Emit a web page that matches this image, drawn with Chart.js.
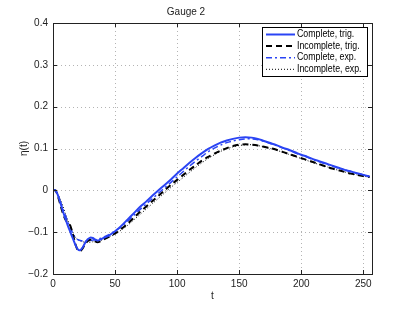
<!DOCTYPE html>
<html>
<head>
<meta charset="utf-8">
<script src="https://cdn.jsdelivr.net/npm/chart.js@4/dist/chart.umd.min.js"></script>
<style>
  body { margin: 0; background: #fff; }
</style>
</head>
<body>
<canvas id="gaugeChart" width="411" height="309"></canvas>
<script>
// time samples (shared by all series)
const tValues = [0, 2, 4, 6, 8, 10, 12, 14, 16, 18, 20, 22, 24, 26, 28, 30, 32, 34, 36, 38, 40,
  45, 50, 55, 60, 65, 70, 75, 80, 85, 90, 95, 100, 105, 110, 115, 120, 125, 130, 135, 140,
  145, 150, 155, 160, 165, 170, 175, 180, 185, 190, 195, 200, 205, 210, 215, 220, 225, 230,
  235, 240, 245, 250, 255];

const completeTrig = [0, 0, -0.012, -0.03, -0.05, -0.068, -0.085, -0.1, -0.115, -0.13, -0.141,
  -0.143, -0.136, -0.125, -0.117, -0.113, -0.114, -0.118, -0.12, -0.118, -0.115,
  -0.108, -0.098, -0.085, -0.07, -0.055, -0.04, -0.027, -0.013, 0.0, 0.013, 0.026, 0.04,
  0.053, 0.066, 0.078, 0.089, 0.099, 0.107, 0.114, 0.119, 0.123, 0.126, 0.127, 0.126,
  0.123, 0.118, 0.113, 0.108, 0.102, 0.097, 0.091, 0.085, 0.08, 0.074, 0.069, 0.064,
  0.059, 0.054, 0.049, 0.045, 0.041, 0.037, 0.033];

const incompleteTrig = [0, 0, -0.015, -0.035, -0.055, -0.07, -0.077, -0.085, -0.105, -0.128, -0.143,
  -0.145, -0.138, -0.128, -0.121, -0.118, -0.118, -0.122, -0.124, -0.122, -0.119,
  -0.111, -0.103, -0.092, -0.08, -0.066, -0.052, -0.039, -0.026, -0.013, 0.0, 0.013, 0.025,
  0.037, 0.049, 0.06, 0.071, 0.08, 0.088, 0.095, 0.101, 0.106, 0.109, 0.11, 0.109,
  0.107, 0.104, 0.101, 0.097, 0.092, 0.087, 0.082, 0.077, 0.072, 0.067, 0.062, 0.057,
  0.052, 0.048, 0.044, 0.04, 0.037, 0.034, 0.032];

const completeExp = [0, 0, -0.012, -0.028, -0.045, -0.06, -0.076, -0.09, -0.103, -0.113, -0.118,
  -0.12, -0.121, -0.121, -0.12, -0.12, -0.119, -0.118, -0.117, -0.115, -0.113,
  -0.106, -0.097, -0.087, -0.074, -0.06, -0.046, -0.033, -0.02, -0.007, 0.006, 0.019, 0.032,
  0.045, 0.058, 0.07, 0.081, 0.092, 0.101, 0.108, 0.114, 0.118, 0.121, 0.123, 0.123,
  0.121, 0.117, 0.112, 0.107, 0.101, 0.096, 0.09, 0.084, 0.079, 0.073, 0.068, 0.063,
  0.058, 0.053, 0.049, 0.045, 0.041, 0.037, 0.033];

const incompleteExp = [0, 0, -0.01, -0.022, -0.038, -0.055, -0.072, -0.088, -0.101, -0.112, -0.118,
  -0.121, -0.123, -0.124, -0.124, -0.124, -0.123, -0.122, -0.121, -0.12, -0.118,
  -0.112, -0.105, -0.095, -0.084, -0.071, -0.058, -0.045, -0.032, -0.019, -0.006, 0.007, 0.019,
  0.031, 0.043, 0.055, 0.066, 0.076, 0.085, 0.093, 0.099, 0.104, 0.107, 0.109, 0.109,
  0.107, 0.104, 0.1, 0.096, 0.091, 0.086, 0.081, 0.076, 0.071, 0.066, 0.061, 0.057,
  0.052, 0.048, 0.044, 0.04, 0.037, 0.034, 0.031];

const seriesLabels = ["Complete, trig.", "Incomplete, trig.", "Complete, exp.", "Incomplete, exp."];
const xTicks = [0, 50, 100, 150, 200, 250];
const yTicks = [-0.2, -0.1, 0, 0.1, 0.2, 0.3, 0.4];

const BLUE = "#2a44f4";
const FONT = "'Liberation Sans', Arial, sans-serif";

const toPoints = (vals) => tValues.map((t, i) => ({ x: t, y: vals[i] }));

// dotted grid, box with inward ticks, legend inside the axes
const matlabAxes = {
  id: "matlabAxes",
  beforeDatasetsDraw(chart) {
    const { ctx, chartArea: a, scales } = chart;
    ctx.save();
    ctx.strokeStyle = "#b4b4b4";
    ctx.lineWidth = 1;
    ctx.setLineDash([1, 3]);
    xTicks.forEach((v) => {
      const x = Math.round(scales.x.getPixelForValue(v)) + 0.5;
      ctx.beginPath(); ctx.moveTo(x, a.top); ctx.lineTo(x, a.bottom); ctx.stroke();
    });
    yTicks.forEach((v) => {
      const y = Math.round(scales.y.getPixelForValue(v)) + 0.5;
      ctx.beginPath(); ctx.moveTo(a.left, y); ctx.lineTo(a.right, y); ctx.stroke();
    });
    ctx.restore();
  },
  afterDatasetsDraw(chart) {
    const { ctx, chartArea: a, scales } = chart;
    ctx.save();
    ctx.strokeStyle = "#222";
    ctx.lineWidth = 1;
    ctx.setLineDash([]);
    ctx.strokeRect(Math.round(a.left) + 0.5, Math.round(a.top) + 0.5,
      Math.round(a.right - a.left), Math.round(a.bottom - a.top));
    const tl = 4;
    xTicks.forEach((v) => {
      const x = Math.round(scales.x.getPixelForValue(v)) + 0.5;
      ctx.beginPath();
      ctx.moveTo(x, a.bottom); ctx.lineTo(x, a.bottom - tl);
      ctx.moveTo(x, a.top); ctx.lineTo(x, a.top + tl);
      ctx.stroke();
    });
    yTicks.forEach((v) => {
      const y = Math.round(scales.y.getPixelForValue(v)) + 0.5;
      ctx.beginPath();
      ctx.moveTo(a.left, y); ctx.lineTo(a.left + tl, y);
      ctx.moveTo(a.right, y); ctx.lineTo(a.right - tl, y);
      ctx.stroke();
    });

    // legend
    const lx = 262, ly = 27, lw = 105, lh = 49;
    ctx.fillStyle = "#fff";
    ctx.fillRect(lx, ly, lw, lh);
    ctx.strokeStyle = "#000";
    ctx.strokeRect(lx + 0.5, ly + 0.5, lw, lh);
    ctx.font = "10px " + FONT;
    ctx.textBaseline = "middle";
    chart.data.datasets.forEach((ds, i) => {
      const y = ly + 7.5 + i * 11.6;
      ctx.strokeStyle = ds.borderColor;
      ctx.lineWidth = ds.borderWidth;
      ctx.setLineDash(ds.borderDash || []);
      ctx.beginPath(); ctx.moveTo(lx + 4, y); ctx.lineTo(lx + 33, y); ctx.stroke();
      ctx.setLineDash([]);
      ctx.fillStyle = "#000";
      // reference font is narrower: squeeze text horizontally
      const w = ctx.measureText(ds.label).width * 0.88;
      ctx.fillText(ds.label, lx + 35, y, w);
    });
    ctx.restore();
  },
};

const ctx = document.getElementById("gaugeChart").getContext("2d");
const chart = new Chart(ctx, {
  type: "line",
  data: {
    datasets: [
      { label: seriesLabels[0], data: toPoints(completeTrig), borderColor: BLUE, borderWidth: 2 },
      { label: seriesLabels[1], data: toPoints(incompleteTrig), borderColor: "#000", borderWidth: 2, borderDash: [6, 4] },
      { label: seriesLabels[2], data: toPoints(completeExp), borderColor: BLUE, borderWidth: 1.5, borderDash: [6, 3, 2, 3] },
      { label: seriesLabels[3], data: toPoints(incompleteExp), borderColor: "#000", borderWidth: 1, borderDash: [1, 2] },
    ],
  },
  options: {
    responsive: false,
    animation: false,
    layout: { padding: { left: 0, top: 0, right: 39, bottom: 0 } },
    elements: { point: { radius: 0 }, line: { tension: 0.3, fill: false } },
    plugins: {
      legend: { display: false },
      tooltip: { enabled: false },
      title: {
        display: true,
        text: "Gauge 2",
        color: "#222",
        font: { family: FONT, size: 10, weight: "normal" },
        padding: { top: 6, bottom: 5 },
      },
    },
    scales: {
      x: {
        type: "linear",
        min: 0,
        max: 257,
        afterFit: (s) => { s.height = 35; },
        grid: { display: false, drawTicks: false },
        border: { display: false },
        ticks: {
          stepSize: 50,
          includeBounds: false,
          padding: 4,
          color: "#222",
          maxRotation: 0,
          font: { family: FONT, size: 10 },
        },
        title: { display: true, text: "t", color: "#222", padding: 7, font: { family: FONT, size: 10 } },
      },
      y: {
        min: -0.2,
        max: 0.4,
        afterFit: (s) => { s.width = 53; },
        grid: { display: false, drawTicks: false },
        border: { display: false },
        ticks: {
          stepSize: 0.1,
          includeBounds: false,
          padding: 5,
          color: "#222",
          font: { family: FONT, size: 10 },
          callback: (v) => {
            const r = Math.round(v * 10) / 10;
            return r === 0 ? "0" : r.toFixed(1).replace("-", "\u2212");
          },
        },
        title: { display: true, text: "\u03b7(t)", color: "#222", padding: 18, font: { family: FONT, size: 10 } },
      },
    },
  },
  plugins: [matlabAxes],
});
</script>
</body>
</html>
